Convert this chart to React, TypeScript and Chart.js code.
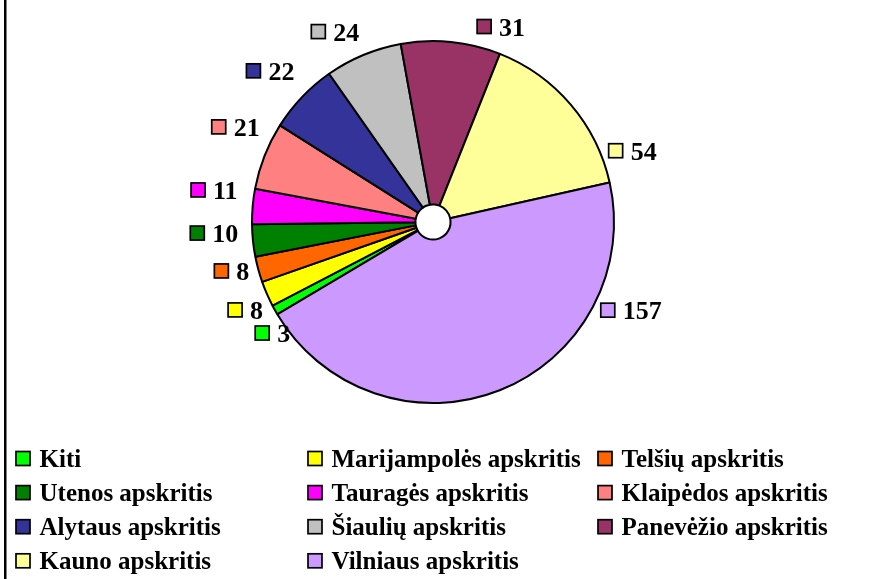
import React, { useEffect, useRef } from 'react';
import { Chart, registerables } from 'chart.js';

Chart.register(...registerables);

const categories = [
  'Kiti',
  'Marijampolės apskritis',
  'Telšių apskritis',
  'Utenos apskritis',
  'Tauragės apskritis',
  'Klaipėdos apskritis',
  'Alytaus apskritis',
  'Šiaulių apskritis',
  'Panevėžio apskritis',
  'Kauno apskritis',
  'Vilniaus apskritis',
];
const values = [3, 8, 8, 10, 11, 21, 22, 24, 31, 54, 157];
const colors = [
  '#00FF00',
  '#FFFF00',
  '#FF6600',
  '#008000',
  '#FF00FF',
  '#FF8080',
  '#333399',
  '#C0C0C0',
  '#993366',
  '#FFFF99',
  '#CC99FF',
];

// label layout: angle shift (deg) from slice middle, distance from centre (px)
const labelShift = [-5.6, -1.7, 1.5, 3, 3.4, 4.3, -0.7, -4.5, 13.5, 20.8, -44.4];
const labelDist = [195, 207, 207, 219, 221, 219, 222, 214, 207, 212, 217];

const W = 871;
const H = 579;
const LABEL_FONT = 'bold 26px "Liberation Serif", "Times New Roman", serif';
const LEGEND_FONT = 'bold 25px "Liberation Serif", "Times New Roman", serif';
const legendCols = [16, 308, 598];
const legendRow0 = 458.5;
const legendRowStep = 34.1;

function drawSquare(ctx: CanvasRenderingContext2D, x: number, y: number, s: number, color: string) {
  ctx.fillStyle = color;
  ctx.fillRect(x, y, s, s);
  ctx.lineWidth = 1.7;
  ctx.strokeStyle = '#000';
  ctx.strokeRect(x, y, s, s);
}

const decorPlugin = {
  id: 'decor',
  afterDraw(chart: any) {
    const ctx: CanvasRenderingContext2D = chart.ctx;
    ctx.save();
    // left frame edge
    ctx.fillStyle = '#000';
    ctx.fillRect(4, 0, 2.5, H);

    // data labels
    const meta = chart.getDatasetMeta(0);
    ctx.font = LABEL_FONT;
    ctx.textAlign = 'left';
    ctx.textBaseline = 'alphabetic';
    meta.data.forEach((arc: any, i: number) => {
      const p = arc.getProps(['x', 'y', 'startAngle', 'endAngle'], true);
      const mid = (p.startAngle + p.endAngle) / 2 + (labelShift[i] * Math.PI) / 180;
      const cx = p.x + labelDist[i] * Math.cos(mid);
      const cy = p.y + labelDist[i] * Math.sin(mid);
      const txt = String(values[i]);
      const tw = ctx.measureText(txt).width;
      const sq = 14;
      const gap = 8;
      const total = sq + gap + tw;
      const x0 = cx - total / 2;
      drawSquare(ctx, x0, cy - sq / 2, sq, colors[i]);
      ctx.fillStyle = '#000';
      ctx.fillText(txt, x0 + sq + gap, cy + 9);
    });

    // legend grid
    ctx.font = LEGEND_FONT;
    categories.forEach((name, i) => {
      const col = i % 3;
      const row = Math.floor(i / 3);
      const x = legendCols[col];
      const y = legendRow0 + row * legendRowStep;
      drawSquare(ctx, x, y - 7, 14, colors[i]);
      ctx.fillStyle = '#000';
      ctx.fillText(name, x + 23.5, y + 8.5);
    });
    ctx.restore();
  },
};

export default function App() {
  const ref = useRef<HTMLCanvasElement | null>(null);
  useEffect(() => {
    if (!ref.current) return;
    const chart = new Chart(ref.current, {
      type: 'doughnut',
      data: {
        labels: categories,
        datasets: [
          {
            data: values,
            backgroundColor: colors,
            borderColor: '#000',
            borderWidth: 2,
          },
        ],
      },
      options: {
        responsive: false,
        animation: false,
        devicePixelRatio: 1,
        rotation: 239.35,
        radius: 181,
        cutout: '9.7%',
        layout: { padding: { left: 0, right: 5, top: 0, bottom: 135 } },
        plugins: {
          legend: { display: false },
          tooltip: { enabled: false },
        },
      },
      plugins: [decorPlugin],
    });
    return () => chart.destroy();
  }, []);
  return (
    <div style={{ width: W, height: H, background: '#fff' }}>
      <style>{`body{margin:0;overflow:hidden;background:#fff}`}</style>
      <canvas ref={ref} width={W} height={H} style={{ display: 'block', width: W, height: H }} />
    </div>
  );
}
